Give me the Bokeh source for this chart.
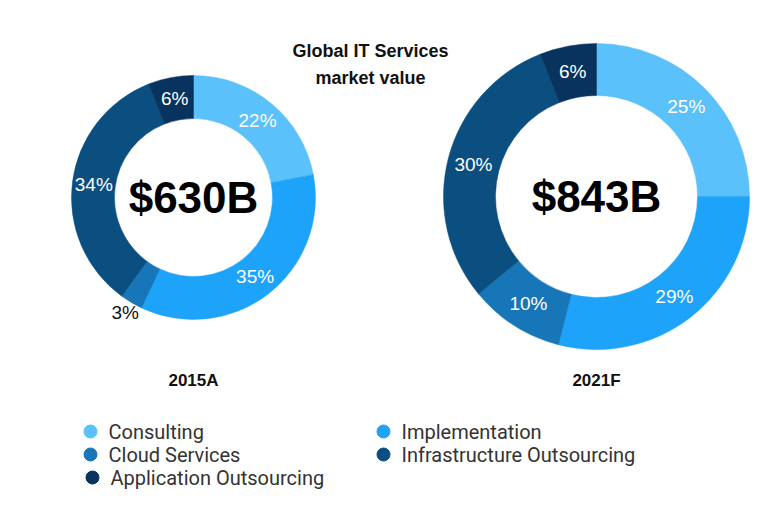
import math
from bokeh.plotting import figure
from bokeh.models import Range1d, ColumnDataSource
from bokeh.core.properties import value
from bokeh.embed import file_html
from bokeh.resources import INLINE

categories = ["Consulting", "Implementation", "Cloud Services",
              "Infrastructure Outsourcing", "Application Outsourcing"]
colors = ["#5BC1FB", "#1EA3FB", "#1676B8", "#0B4F80", "#07335E"]
share_2015 = [22, 35, 3, 34, 6]
share_2021 = [25, 29, 10, 30, 6]
totals = ["$630B", "$843B"]
years = ["2015A", "2021F"]
title_lines = ["Global IT Services", "market value"]

W, H = 752, 508
p = figure(width=W, height=H, output_backend="svg", toolbar_location=None,
           x_range=Range1d(0, W), y_range=Range1d(0, H), min_border=0)
p.axis.visible = False
p.grid.visible = False
p.outline_line_color = None
p.background_fill_color = "white"

def Y(py):
    return H - py

def X(px):
    return px

donuts = [
    dict(vals=share_2015, cx=193, cy=197, ri=79, ro=122, outside={2: 134}),
    dict(vals=share_2021, cx=596, cy=196, ri=101, ro=153, outside={}),
]

for i, d in enumerate(donuts):
    vals = d["vals"]
    cum = [0]
    for v in vals:
        cum.append(cum[-1] + v)
    starts = [math.pi / 2 - 2 * math.pi * c / 100 for c in cum[:-1]]
    ends = [math.pi / 2 - 2 * math.pi * c / 100 for c in cum[1:]]
    src = ColumnDataSource(dict(start=starts, end=ends, color=colors,
                                x=[X(d["cx"])] * 5, y=[Y(d["cy"])] * 5))
    p.annular_wedge(x="x", y="y", inner_radius=d["ri"], outer_radius=d["ro"],
                    start_angle="start", end_angle="end", direction="clock",
                    fill_color="color", line_color="color", line_width=0.5,
                    source=src)
    lx, ly, lt, lc = [], [], [], []
    for k, v in enumerate(vals):
        mid = math.pi / 2 - 2 * math.pi * (cum[k] + v / 2) / 100
        r = d["outside"].get(k, (d["ri"] + d["ro"]) / 2)
        lx.append(X(d["cx"]) + r * math.cos(mid))
        ly.append(Y(d["cy"]) + r * math.sin(mid))
        lt.append(f"{v}%")
        lc.append("#111111" if k in d["outside"] else "white")
    p.text(x=lx, y=ly, text=lt, text_color=lc, text_align="center",
           text_baseline="middle", text_font=value("Liberation Sans"),
           text_font_size="19px")
    p.text(x=[X(d["cx"])], y=[Y(d["cy"])], text=[totals[i]],
           text_align="center", text_baseline="middle",
           text_font=value("Liberation Sans"), text_font_style="bold",
           text_font_size="44px", text_color="black")
    p.text(x=[X(d["cx"])], y=[Y(380)], text=[years[i]],
           text_align="center", text_baseline="middle",
           text_font=value("Liberation Sans"), text_font_style="bold",
           text_font_size="17px", text_color="#111111")

p.text(x=[X(370), X(370)], y=[Y(50), Y(77)], text=title_lines,
       text_align="center", text_baseline="middle",
       text_font=value("Liberation Sans"), text_font_style="bold",
       text_font_size="18px", text_color="#111111")

leg_px = [90, 383, 90, 383, 92]
leg_py = [431, 431, 454, 454, 477]
p.scatter(x=[X(v) for v in leg_px], y=[Y(v) for v in leg_py], size=13,
          marker="circle", fill_color=colors, line_color=colors)
p.text(x=[X(v + 18) for v in leg_px], y=[Y(v) for v in leg_py], text=categories,
       text_align="left", text_baseline="middle",
       text_font=value("Roboto"), text_font_size="20px", text_color="#333333")

open("out.html", "w").write(file_html(p, INLINE))
